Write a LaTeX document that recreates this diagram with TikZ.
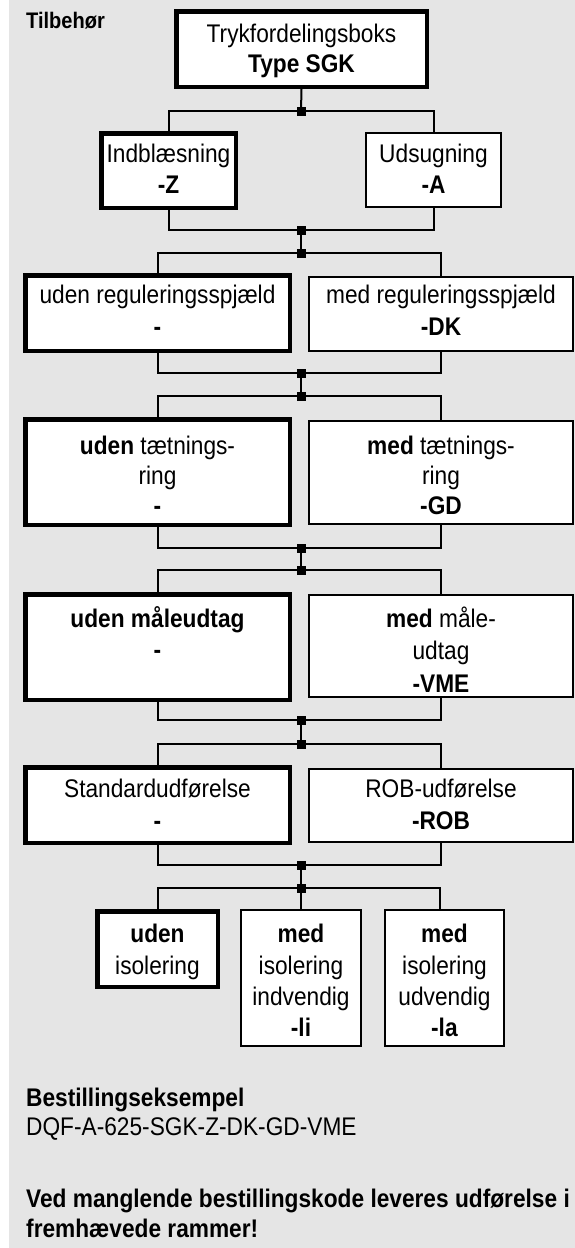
\documentclass[tikz,border=0pt]{standalone}
\usepackage{fontspec}
\setmainfont{Liberation Sans}[FakeStretch=0.89]
\definecolor{bggray}{RGB}{229,229,229}
\tikzset{
  box/.style={draw=black, fill=white, line width=2pt, inner sep=0pt, rectangle},
  thickbox/.style={box, line width=4.5pt},
  conn/.style={line width=2pt},
  junc/.style={fill=black, rectangle, minimum size=9pt, inner sep=0pt},
  lbl/.style={anchor=base, inner sep=0pt},
  plain/.style={anchor=base west, inner sep=0pt},
}
\begin{document}
\begin{tikzpicture}[x=1pt, y=-1pt, font=\fontsize{25.5}{31}\selectfont]
\useasboundingbox (0,0) rectangle (575,1248);
\fill[white] (0,0) rectangle (575,1248);
\fill[bggray] (9,0) rectangle (575,1248);

% title
\node[plain, font=\fontsize{22.5}{26}\selectfont\bfseries] (tilb) at (26,28) {Tilbehør};

% boxes
\node[thickbox, minimum width=250.5pt, minimum height=75.5pt] (top) at (301.5,49) {};
\node[thickbox, minimum width=134.5pt, minimum height=74.5pt] (indb) at (168.5,170.5) {};
\node[box, minimum width=135pt, minimum height=74pt] (udsug) at (433.5,170) {};
\node[thickbox, minimum width=264.5pt, minimum height=75.5pt] (udenreg) at (157.5,313) {};
\node[box, minimum width=264pt, minimum height=74pt] (medreg) at (441,314) {};
\node[thickbox, minimum width=264.5pt, minimum height=105.5pt] (udentaet) at (157.5,472) {};
\node[box, minimum width=264pt, minimum height=103pt] (medtaet) at (441,472.5) {};
\node[thickbox, minimum width=264.5pt, minimum height=105.5pt] (udenmaale) at (157.5,647) {};
\node[box, minimum width=264pt, minimum height=102pt] (medmaale) at (441,646) {};
\node[thickbox, minimum width=264.5pt, minimum height=75.5pt] (standard) at (157.5,805) {};
\node[box, minimum width=264pt, minimum height=73pt] (rob) at (441,805.5) {};
\node[thickbox, minimum width=120.5pt, minimum height=75.5pt] (udeniso) at (157.5,949) {};
\node[box, minimum width=120pt, minimum height=136pt] (medindv) at (301,978) {};
\node[box, minimum width=119pt, minimum height=136pt] (medudv) at (444.5,978) {};

% texts in boxes
\node[lbl] (top1) at (301.5,42) {Trykfordelingsboks};
\node[lbl] (top2) at (301.5,72) {\textbf{Type SGK}};
\node[lbl] (indb1) at (168.5,162) {Indblæsning};
\node[lbl] (indb2) at (168.5,193) {\textbf{-Z}};
\node[lbl] (udsug1) at (433.5,162) {Udsugning};
\node[lbl] (udsug2) at (433.5,193) {\textbf{-A}};
\node[lbl] (udenreg1) at (157.5,303) {uden reguleringsspjæld};
\node[lbl] (udenreg2) at (157.5,335) {\textbf{-}};
\node[lbl] (medreg1) at (441,303) {med reguleringsspjæld};
\node[lbl] (medreg2) at (441,335) {\textbf{-DK}};
\node[lbl] (udentaet1) at (157.5,454) {\textbf{uden} tætnings-};
\node[lbl] (udentaet2) at (157.5,484) {ring};
\node[lbl] (udentaet3) at (157.5,514) {\textbf{-}};
\node[lbl] (medtaet1) at (441,454) {\textbf{med} tætnings-};
\node[lbl] (medtaet2) at (441,484) {ring};
\node[lbl] (medtaet3) at (441,514) {\textbf{-GD}};
\node[lbl] (udenmaale1) at (157.5,627) {\textbf{uden måleudtag}};
\node[lbl] (udenmaale2) at (157.5,658) {\textbf{-}};
\node[lbl] (medmaale1) at (441,627) {\textbf{med} måle-};
\node[lbl] (medmaale2) at (441,659) {udtag};
\node[lbl] (medmaale3) at (441,692) {\textbf{-VME}};
\node[lbl] (standard1) at (157.5,797) {Standardudførelse};
\node[lbl] (standard2) at (157.5,829) {\textbf{-}};
\node[lbl] (rob1) at (441,797) {ROB-udførelse};
\node[lbl] (rob2) at (441,829) {\textbf{-ROB}};
\node[lbl] (udeniso1) at (157.5,942) {\textbf{uden}};
\node[lbl] (udeniso2) at (157.5,974) {isolering};
\node[lbl] (medindv1) at (301,942) {\textbf{med}};
\node[lbl] (medindv2) at (301,974) {isolering};
\node[lbl] (medindv3) at (301,1005) {indvendig};
\node[lbl] (medindv4) at (301,1036) {\textbf{-li}};
\node[lbl] (medudv1) at (444.5,942) {\textbf{med}};
\node[lbl] (medudv2) at (444.5,974) {isolering};
\node[lbl] (medudv3) at (444.5,1005) {udvendig};
\node[lbl] (medudv4) at (444.5,1036) {\textbf{-la}};

% junctions
\node[junc] (j1) at (301,111) {};
\node[junc] (j2) at (301,230) {};
\node[junc] (j3) at (301,253) {};
\node[junc] (j4) at (301,373) {};
\node[junc] (j5) at (301,396) {};
\node[junc] (j6) at (301,548) {};
\node[junc] (j7) at (301,570) {};
\node[junc] (j8) at (301,720) {};
\node[junc] (j9) at (301,744) {};
\node[junc] (j10) at (301,865) {};
\node[junc] (j11) at (301,888) {};
\coordinate (r11) at (440,888);

% connectors
\draw[conn] (top.south) -- (j1.center);
\draw[conn] (indb.north) -- (indb.north |- j1.center) -- (udsug.north |- j1.center) -- (udsug.north);
\draw[conn] (indb.south) -- (indb.south |- j2.center) -- (udsug.south |- j2.center) -- (udsug.south);
\draw[conn] (j2.center) -- (j3.center);
\draw[conn] (udenreg.north) -- (udenreg.north |- j3.center) -- (medreg.north |- j3.center) -- (medreg.north);
\draw[conn] (udenreg.south) -- (udenreg.south |- j4.center) -- (medreg.south |- j4.center) -- (medreg.south);
\draw[conn] (j4.center) -- (j5.center);
\draw[conn] (udentaet.north) -- (udentaet.north |- j5.center) -- (medtaet.north |- j5.center) -- (medtaet.north);
\draw[conn] (udentaet.south) -- (udentaet.south |- j6.center) -- (medtaet.south |- j6.center) -- (medtaet.south);
\draw[conn] (j6.center) -- (j7.center);
\draw[conn] (udenmaale.north) -- (udenmaale.north |- j7.center) -- (medmaale.north |- j7.center) -- (medmaale.north);
\draw[conn] (udenmaale.south) -- (udenmaale.south |- j8.center) -- (medmaale.south |- j8.center) -- (medmaale.south);
\draw[conn] (j8.center) -- (j9.center);
\draw[conn] (standard.north) -- (standard.north |- j9.center) -- (rob.north |- j9.center) -- (rob.north);
\draw[conn] (standard.south) -- (standard.south |- j10.center) -- (rob.south |- j10.center) -- (rob.south);
\draw[conn] (j10.center) -- (j11.center);
\draw[conn] (udeniso.north) -- (udeniso.north |- j11.center) -- (r11) -- (r11 |- medudv.north);
\draw[conn] (j11.center) -- (medindv.north);

% bottom texts
\node[plain, font=\fontsize{25.5}{31}\selectfont\bfseries] (best) at (26,1106) {Bestillingseksempel};
\node[plain] (dqf) at (26,1135) {DQF-A-625-SGK-Z-DK-GD-VME};
\node[plain, font=\fontsize{25.5}{31}\selectfont\bfseries] (ved1) at (26,1207) {Ved manglende bestillingskode leveres udførelse i};
\node[plain, font=\fontsize{25.5}{31}\selectfont\bfseries] (ved2) at (26,1237) {fremhævede rammer!};
\end{tikzpicture}
\end{document}
